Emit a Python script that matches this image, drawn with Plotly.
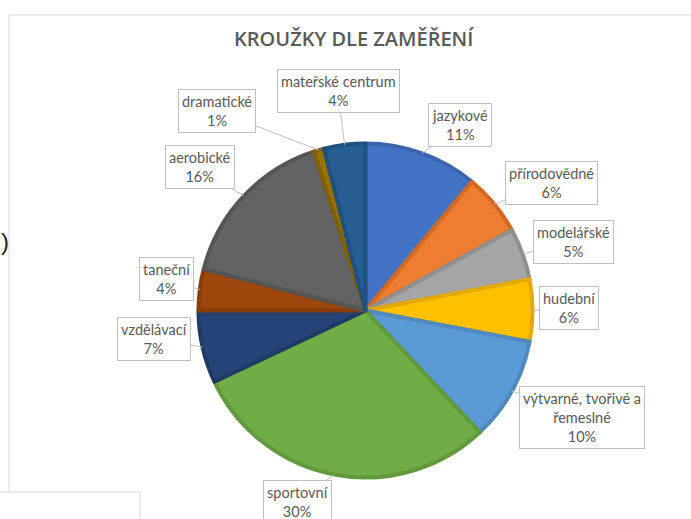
import plotly.graph_objects as go
import math

# ---- data ----
categories = ["jazykové", "přírodovědné", "modelářské", "hudební",
              "výtvarné, tvořivé a<br>řemeslné", "sportovní", "vzdělávací",
              "taneční", "aerobické", "dramatické", "mateřské centrum"]
values = [11, 6, 5, 6, 10, 30, 7, 4, 16, 1, 4]
title_text = "KROUŽKY DLE ZAMĚŘENÍ"

# ---- styles ----
fill_colors = ["#4472C4", "#ED7D31", "#A5A5A5", "#FFC000", "#5B9BD5", "#70AD47",
               "#264478", "#9E480E", "#636363", "#997300", "#255E91"]
line_colors = ["#3B64AD", "#D46A22", "#8F8F8F", "#E3AA00", "#4F89BE", "#62993C",
               "#1F3A66", "#873C0A", "#555555", "#806000", "#1F5080"]

W, H = 691, 519
cx, cy, R = 365.5, 310.5, 167

# label box centres (pixels) for each category, in the same order
label_pos = [(460, 125), (551, 183), (573, 242), (569, 308), (582, 417),
             (297, 502), (154, 339), (166, 279), (200, 167), (217, 111), (338, 91)]


def px(x):
    return x / W


def py(y):
    return 1 - y / H


fig = go.Figure()
fig.add_trace(go.Pie(
    labels=categories, values=values, sort=False, direction="clockwise",
    rotation=0, textinfo="none", hoverinfo="skip",
    marker=dict(colors=fill_colors, line=dict(color=line_colors, width=4)),
    domain=dict(x=[px(cx - R), px(cx + R)], y=[py(cy + R), py(cy - R)]),
    showlegend=False,
))

total = sum(values)
annotations = []
cum = 0
for cat, v, (bx, by) in zip(categories, values, label_pos):
    mid = (cum + v / 2) / total * 2 * math.pi
    cum += v
    tx = cx + R * math.sin(mid)
    ty = cy - R * math.cos(mid)
    pct = round(v / total * 100)
    annotations.append(dict(
        x=px(tx), y=py(ty), xref="paper", yref="paper",
        ax=bx - tx, ay=by - ty, axref="pixel", ayref="pixel",
        text=f"{cat}<br>{pct}%", showarrow=True, arrowhead=0,
        arrowwidth=1, arrowcolor="#BFBFBF", standoff=0,
        bordercolor="#BFBFBF", borderwidth=1, borderpad=3, bgcolor="white",
        font=dict(family="Lato", size=14.5, color="#595959"), align="center",
    ))

# title
annotations.append(dict(
    x=px(354), y=py(38), xref="paper", yref="paper", showarrow=False,
    text=title_text, xanchor="center", yanchor="middle",
    font=dict(family="Open Sans", size=20, color="#595959", weight=600),
))
# stray parenthesis at the left edge
annotations.append(dict(
    x=px(-1), y=py(241), xref="paper", yref="paper", showarrow=False,
    text=")", xanchor="left", yanchor="middle",
    font=dict(family="Liberation Sans", size=24, color="#222222"),
))

shapes = [
    dict(type="line", xref="paper", yref="paper", x0=px(9), x1=1, y0=py(15), y1=py(15),
         line=dict(color="#D9D9D9", width=1)),
    dict(type="line", xref="paper", yref="paper", x0=px(9), x1=px(9), y0=py(15), y1=py(492),
         line=dict(color="#D9D9D9", width=1)),
    dict(type="line", xref="paper", yref="paper", x0=0, x1=px(140), y0=py(492), y1=py(492),
         line=dict(color="#D9D9D9", width=1)),
    dict(type="line", xref="paper", yref="paper", x0=px(140), x1=px(140), y0=py(492), y1=0,
         line=dict(color="#D9D9D9", width=1)),
]

fig.update_layout(
    width=W, height=H, autosize=False,
    margin=dict(l=0, r=0, t=0, b=0),
    paper_bgcolor="white", plot_bgcolor="white",
    annotations=annotations, shapes=shapes,
)

fig.write_html("out.html")
